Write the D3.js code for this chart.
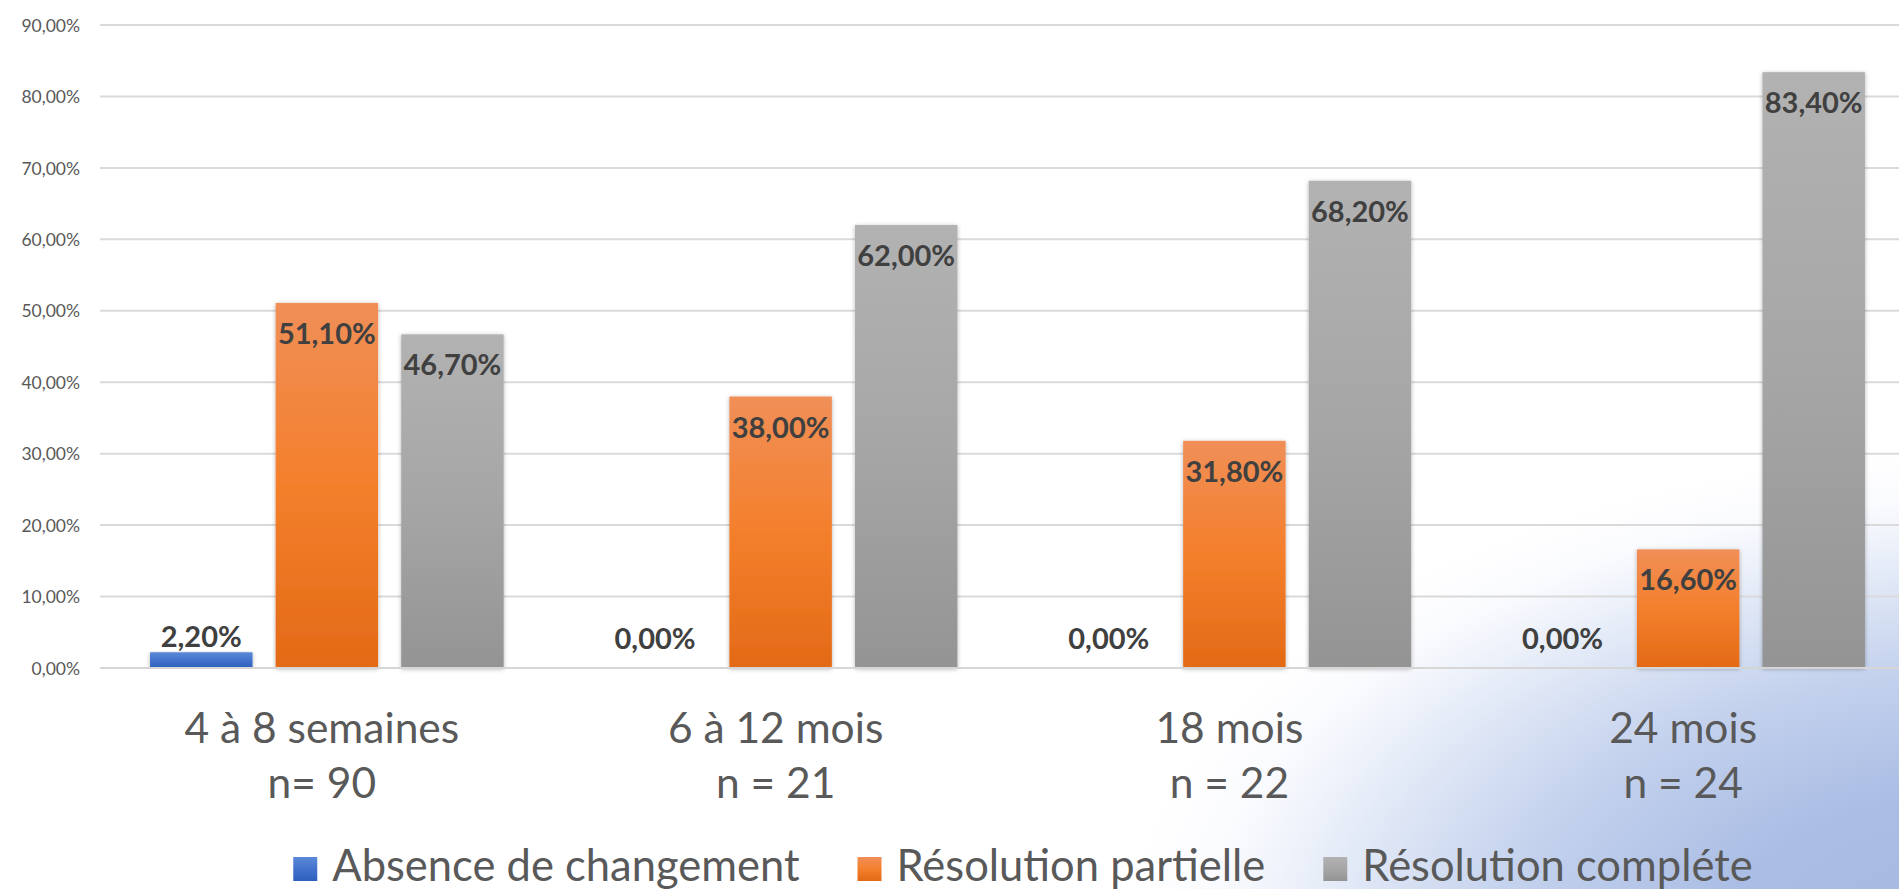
<!DOCTYPE html>
<html>
<head>
<meta charset="utf-8">
<script src="https://cdn.jsdelivr.net/npm/d3@7"></script>
<style>
  html, body { margin: 0; padding: 0; background: #ffffff; overflow: hidden; }
  svg { display: block; }
  text { font-family: Lato, "Open Sans", "Liberation Sans", sans-serif; }
</style>
</head>
<body>
<svg id="chart" width="1899" height="889"></svg>
<script>
// ---- data ----
const categories = ["4 à 8 semaines|n= 90", "6 à 12 mois|n = 21", "18 mois|n = 22", "24 mois|n = 24"];
const seriesNames = ["Absence de changement", "Résolution partielle", "Résolution compléte"];
const absenceChangement = [2.2, 0.0, 0.0, 0.0];
const resolutionPartielle = [51.1, 38.0, 31.8, 16.6];
const resolutionComplete = [46.7, 62.0, 68.2, 83.4];
const yTicks = [0, 10, 20, 30, 40, 50, 60, 70, 80, 90];

const seriesValues = [absenceChangement, resolutionPartielle, resolutionComplete];
const fmt = v => v.toFixed(2).replace(".", ",") + "%";

const W = 1899, H = 889;
const svg = d3.select("#chart");
const defs = svg.append("defs");

// background slide gradient (bottom-right, elliptical)
const bg = defs.append("radialGradient").attr("id", "bgGrad")
  .attr("gradientUnits", "userSpaceOnUse")
  .attr("cx", 0).attr("cy", 0).attr("r", 1)
  .attr("gradientTransform", "translate(1999,949) scale(880,500)");
[[0, "#a4b8e1"], [0.32, "#aabde4"], [0.56, "#c3d1ed"], [0.76, "#e3eaf7"], [0.9, "#fafbfe"], [1, "#ffffff"]]
  .forEach(([o, c]) => bg.append("stop").attr("offset", o).attr("stop-color", c));
svg.append("rect").attr("width", W).attr("height", H).attr("fill", "url(#bgGrad)");

// bar gradients
const grads = [
  ["g0", [["0", "#5b88d8"], ["0.5", "#4272cc"], ["1", "#2d60bd"]]],
  ["g1", [["0", "#f08f58"], ["0.5", "#f47f2c"], ["1", "#e36a16"]]],
  ["g2", [["0", "#b2b2b2"], ["0.5", "#a6a6a6"], ["1", "#949494"]]]
];
grads.forEach(([id, stops]) => {
  const g = defs.append("linearGradient").attr("id", id).attr("x1", 0).attr("y1", 0).attr("x2", 0).attr("y2", 1);
  stops.forEach(([o, c]) => g.append("stop").attr("offset", o).attr("stop-color", c));
});
const f = defs.append("filter").attr("id", "shadow").attr("x", "-20%").attr("y", "-5%").attr("width", "140%").attr("height", "110%");
f.append("feDropShadow").attr("dx", 0).attr("dy", 1).attr("stdDeviation", 2.2).attr("flood-color", "#000").attr("flood-opacity", 0.3);

// scales
const y = d3.scaleLinear().domain([0, 90]).range([668, 25]);
const x0 = d3.scaleBand().domain(categories).range([100, 1915]).paddingInner(0.2207).paddingOuter(0.1103);
const x1 = d3.scaleBand().domain(seriesNames).range([0, x0.bandwidth()]).paddingInner(0.184).paddingOuter(0);

// gridlines + y axis labels
const yAxis = d3.axisLeft(y).tickValues(yTicks).tickSize(0).tickPadding(0).tickFormat(d => fmt(d));
const gy = svg.append("g").attr("transform", "translate(80,0)").call(yAxis);
gy.select(".domain").remove();
gy.selectAll("text").attr("fill", "#595959").style("font-size", "17.5px").attr("dy", "0.35em");

const grid = svg.append("g");
grid.selectAll("line").data(yTicks.filter(d => d > 0)).join("line")
  .attr("x1", 100).attr("x2", W)
  .attr("y1", d => y(d)).attr("y2", d => y(d))
  .attr("stroke", "#dadada").attr("stroke-width", 2);

// bars
const flat = [];
categories.forEach((c, i) => seriesNames.forEach((s, j) => flat.push({ c, s, j, v: seriesValues[j][i] })));

svg.append("g").selectAll("rect").data(flat.filter(d => d.v > 0)).join("rect")
  .attr("x", d => x0(d.c) + x1(d.s))
  .attr("y", d => y(d.v))
  .attr("width", x1.bandwidth())
  .attr("height", d => y(0) - y(d.v))
  .attr("fill", d => `url(#g${d.j})`)
  .attr("filter", "url(#shadow)");

// zero axis line on top
svg.append("line").attr("x1", 100).attr("x2", W).attr("y1", y(0)).attr("y2", y(0))
  .attr("stroke", "#d6d6d6").attr("stroke-width", 2);

// data labels
svg.append("g").selectAll("text").data(flat).join("text")
  .attr("x", d => x0(d.c) + x1(d.s) + x1.bandwidth() / 2)
  .attr("y", d => (y(0) - y(d.v) > 45) ? y(d.v) + 41 : Math.min(y(d.v) - 5, y(0) - 19))
  .attr("text-anchor", "middle")
  .attr("fill", "#404040")
  .style("font-size", "29px").style("font-weight", "700")
  .text(d => fmt(d.v));

// category labels
const cat = svg.append("g").selectAll("text").data(categories).join("text")
  .attr("x", d => x0(d) + x0.bandwidth() / 2 - 5)
  .attr("text-anchor", "middle")
  .attr("fill", "#595959")
  .style("font-size", "42.5px");
cat.each(function (d) {
  const parts = d.split("|");
  d3.select(this).selectAll("tspan").data(parts).join("tspan")
    .attr("x", x0(d) + x0.bandwidth() / 2 - 5)
    .attr("y", (p, i) => 743 + i * 55)
    .text(p => p);
});

// legend
const leg = svg.append("g");
const items = leg.selectAll("g").data(seriesNames).join("g");
items.append("rect").attr("width", 24).attr("height", 24).attr("y", 857)
  .attr("fill", (d, i) => `url(#g${i})`);
items.append("text").attr("x", 39).attr("y", 881).attr("fill", "#595959")
  .style("font-size", "43.5px").text(d => d);
const widths = [];
items.each(function () { widths.push(39 + d3.select(this).select("text").node().getComputedTextLength()); });
const gap = 58;
const total = d3.sum(widths) + gap * (widths.length - 1);
let cx = 1023 - total / 2;
items.each(function (d, i) {
  d3.select(this).attr("transform", `translate(${cx},0)`);
  cx += widths[i] + gap;
});
</script>
</body>
</html>
